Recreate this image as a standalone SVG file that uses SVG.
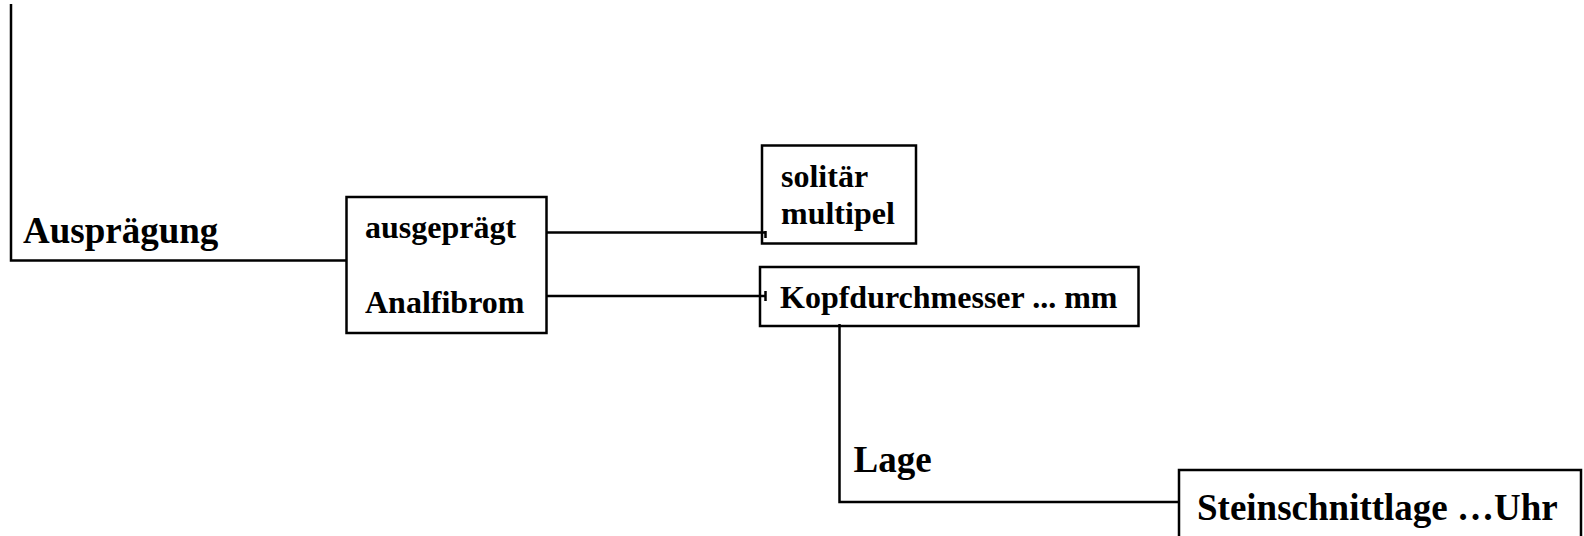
<svg xmlns="http://www.w3.org/2000/svg" width="1584" height="536" viewBox="0 0 1584 536">
<style>
  .box { fill: #ffffff; stroke: #000000; stroke-width: 2.5; }
  .ln { fill: none; stroke: #000000; stroke-width: 2.5; }
  .big { font-family: "Liberation Serif", "Times New Roman", serif; font-weight: bold; font-size: 37px; fill: #000000; }
  .sm { font-family: "Liberation Serif", "Times New Roman", serif; font-weight: bold; font-size: 32px; fill: #000000; }
</style>
<rect width="1584" height="536" fill="#ffffff"/>
<g id="label-auspraegung">
  <text class="big" x="23" y="243">Ausprägung</text>
</g>
<g id="node-ausgepraegt">
  <rect class="box" x="346.5" y="197" width="200" height="136"/>
  <text class="sm" x="365" y="238">ausgeprägt</text>
  <text class="sm" x="365" y="313">Analfibrom</text>
</g>
<g id="node-solitaer">
  <rect class="box" x="762" y="145.5" width="154" height="98"/>
  <text class="sm" x="781" y="187">solitär</text>
  <text class="sm" x="781" y="224">multipel</text>
</g>
<g id="node-kopf">
  <rect class="box" x="760" y="267" width="378.5" height="59"/>
  <text class="sm" x="780" y="308">Kopfdurchmesser ... mm</text>
</g>
<g id="label-lage">
  <text class="big" x="853.5" y="472">Lage</text>
</g>
<g id="node-steinschnitt">
  <rect class="box" x="1179" y="470" width="402" height="80"/>
  <text class="big" x="1197" y="520">Steinschnittlage …Uhr</text>
</g>
<g id="connectors">
  <path class="ln" d="M11,4 V260.5 H347"/>
  <path class="ln" d="M546.5,232.5 H765.5 M765.5,231 V238"/>
  <path class="ln" d="M546.5,296 H765.5 M765.5,291 V301"/>
  <path class="ln" d="M839.5,324 V502 H1179"/>
</g>
</svg>
